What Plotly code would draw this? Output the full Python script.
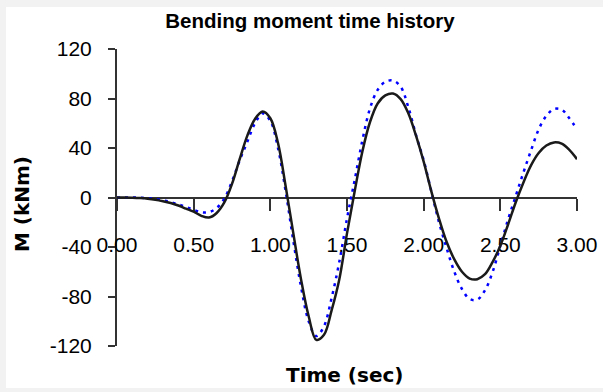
import plotly.graph_objects as go

# ---- data ----
time_s = [0.00, 0.05, 0.10, 0.15, 0.20, 0.25, 0.30, 0.35, 0.40, 0.45,
          0.50, 0.55, 0.60, 0.65, 0.70, 0.75, 0.80, 0.85, 0.90, 0.95,
          1.00, 1.05, 1.10, 1.15, 1.20, 1.25, 1.30, 1.35, 1.40, 1.45,
          1.50, 1.55, 1.60, 1.65, 1.70, 1.75, 1.80, 1.85, 1.90, 1.95,
          2.00, 2.05, 2.10, 2.15, 2.20, 2.25, 2.30, 2.35, 2.40, 2.45,
          2.50, 2.55, 2.60, 2.65, 2.70, 2.75, 2.80, 2.85, 2.90, 2.95,
          3.00]

moment_solid = [0, 0, -0.2, -0.5, -1.0, -1.8, -3.0, -4.5, -6.5, -9.0,
                -11.5, -14.8, -16.2, -12.5, -4.0, 11, 31, 50, 63.5, 69.5,
                64, 44, 9, -29, -66, -96, -115, -111, -91, -66,
                -29, 5, 37, 61, 76, 82.5, 84, 79.5, 68, 50,
                29, 5, -17, -36, -50, -60, -65.5, -66, -62, -52,
                -39, -22, -4, 12, 26, 36, 42, 44.5, 43.5, 38.5,
                31]

moment_dotted = [0, 0, 0, -0.2, -0.6, -1.2, -2.2, -3.7, -5.5, -7.7,
                 -10, -12, -11.8, -8.5, -1, 13, 30, 45, 60, 68,
                 62, 40, 5, -35, -72, -100, -112, -104, -81, -52,
                 -17, 14, 46, 72, 87, 93.5, 94.5, 89.5, 73, 50.5,
                 30, 5, -20, -41, -60, -74, -82, -82.5, -75, -60,
                 -39, -18, 1, 20, 38, 55, 66, 71.5, 71, 64,
                 55]

x_tick_vals = [0.0, 0.5, 1.0, 1.5, 2.0, 2.5, 3.0]
x_tick_text = ["0.00", "0.50", "1.00", "1.50", "2.00", "2.50", "3.00"]
y_tick_vals = [-120, -80, -40, 0, 40, 80, 120]
y_tick_text = ["-120", "-80", "-40", "0", "40", "80", "120"]

FONT = "Liberation Sans, Arial, sans-serif"
TITLE_FONT = "DejaVu Sans, Liberation Sans, sans-serif"
AXIS_COLOR = "#333333"

fig = go.Figure()
fig.add_trace(go.Scatter(
    x=time_s, y=moment_dotted, mode="lines", line_shape="spline",
    line=dict(color="#0000ff", width=2.5, dash="3px,5px"),
    showlegend=False, hoverinfo="skip"))
fig.add_trace(go.Scatter(
    x=time_s, y=moment_solid, mode="lines", line_shape="spline",
    line=dict(color="#1a1a1a", width=2.5),
    showlegend=False, hoverinfo="skip"))

fig.update_layout(
    width=603, height=392,
    margin=dict(l=117, r=26, t=49, b=46, pad=0, autoexpand=False),
    paper_bgcolor="#f2f2f2", plot_bgcolor="rgba(0,0,0,0)",
    font=dict(family=FONT, size=21, color="#000000"),
    title=dict(text="Bending moment time history", x=0.514, xanchor="center",
               xref="container", yref="container", y=0.948, yanchor="middle",
               font=dict(family=FONT, size=20.5, weight="bold", color="#000000")),
    xaxis=dict(range=[0, 3], anchor="free", position=0.5, automargin=False,
               showline=True, linecolor=AXIS_COLOR, linewidth=2,
               ticks="outside", ticklen=12, tickwidth=2, tickcolor=AXIS_COLOR,
               tickvals=x_tick_vals, ticktext=x_tick_text,
               ticklabelstandoff=16,
               showgrid=False, zeroline=False, layer="below traces",
               tickfont=dict(family=FONT, size=21, color="#000000")),
    yaxis=dict(range=[-120, 120], domain=[0, 1], automargin=False,
               showline=True, linecolor=AXIS_COLOR, linewidth=2,
               ticks="outside", ticklen=7, tickwidth=2, tickcolor=AXIS_COLOR,
               tickvals=y_tick_vals, ticktext=y_tick_text,
               ticklabelstandoff=12,
               showgrid=False, zeroline=False, layer="below traces",
               tickfont=dict(family=FONT, size=21, color="#000000")),
    shapes=[dict(type="rect", xref="paper", yref="paper",
                 x0=-0.2413, x1=1.06, y0=-0.1414, y1=1.1414,
                 fillcolor="#ffffff", line=dict(width=0), layer="below")],
    annotations=[
        dict(text="Time (sec)", xref="paper", yref="paper", x=0.4935, y=-0.0976,
             xanchor="center", yanchor="middle", showarrow=False,
             font=dict(family=TITLE_FONT, size=20, weight="bold", color="#000000")),
        dict(text="M (kNm)", xref="paper", yref="paper", x=-0.2065, y=0.478,
             xanchor="center", yanchor="middle", showarrow=False, textangle=-90,
             font=dict(family=TITLE_FONT, size=20, weight="bold", color="#000000")),
    ],
)

fig.write_html("out.html")
